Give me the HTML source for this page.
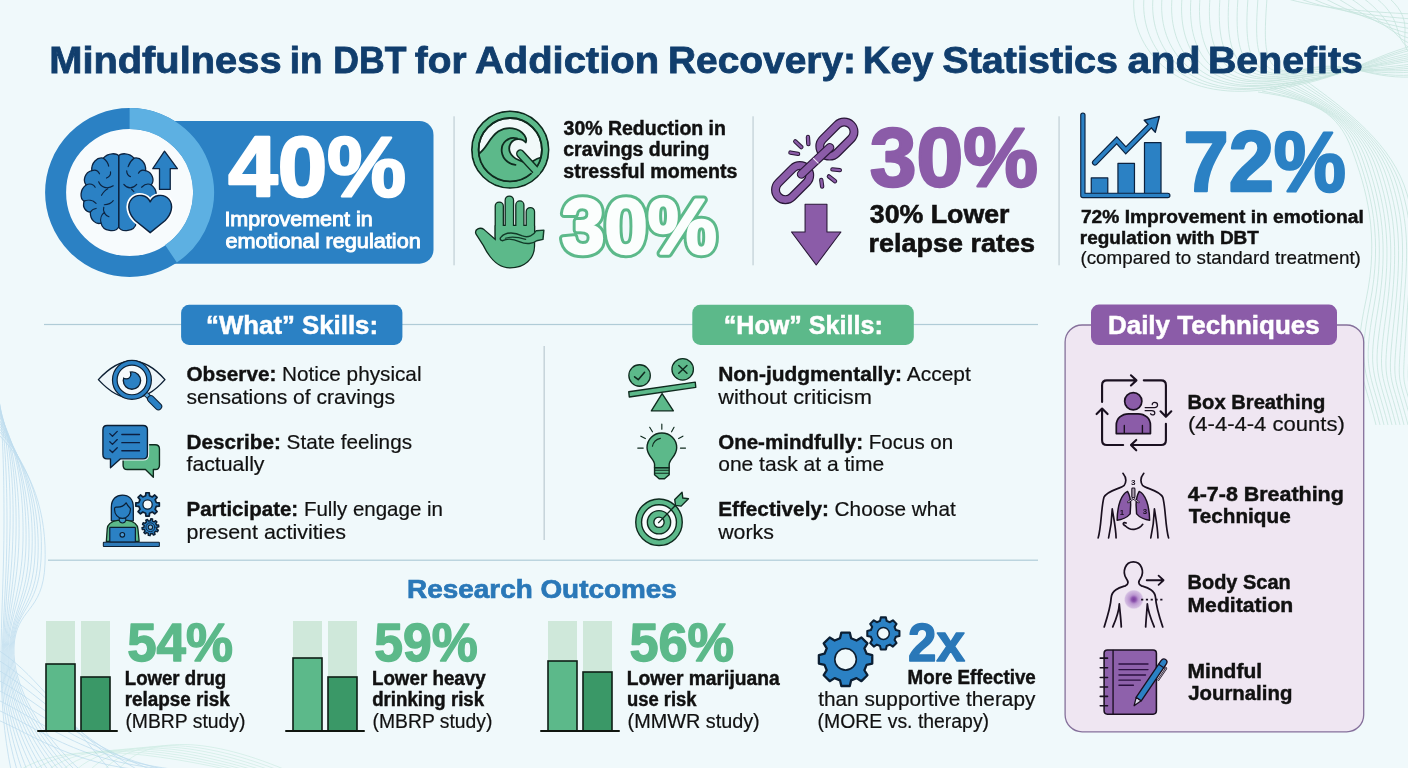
<!DOCTYPE html>
<html lang="en"><head><meta charset="utf-8">
<title>Mindfulness in DBT for Addiction Recovery: Key Statistics and Benefits</title>
<style>
html,body{margin:0;padding:0;background:#f0f9fb;}
body{width:1408px;height:768px;overflow:hidden;font-family:"Liberation Sans",sans-serif;}
svg{display:block;will-change:transform}
text{font-family:"Liberation Sans",sans-serif;}
</style></head><body>
<svg width="1408" height="768" viewBox="0 0 1408 768">
<rect width="1408" height="768" fill="#f0f9fb"/>
<g fill="none" stroke="#a3d3c4" stroke-width="0.8" opacity="0.55"><path d="M1134 -2C1130 40 1165 96 1250 91S1365 58 1412 46"/><path d="M1144 -2C1140 41 1172 95 1254 89S1365 60 1412 48"/><path d="M1153 -2C1149 42 1179 94 1258 88S1365 61 1412 50"/><path d="M1162 -2C1158 43 1186 92 1262 86S1365 62 1412 53"/><path d="M1172 -2C1168 44 1193 91 1266 85S1365 64 1412 55"/><path d="M1182 -2C1178 45 1200 90 1270 83S1365 66 1412 57"/><path d="M1191 -2C1187 46 1207 89 1274 81S1365 67 1412 59"/><path d="M1200 -2C1196 47 1214 88 1278 80S1365 68 1412 61"/><path d="M1210 -2C1206 48 1221 86 1282 78S1365 70 1412 64"/><path d="M1220 -2C1216 49 1228 85 1286 77S1365 72 1412 66"/><path d="M1229 -2C1225 50 1235 84 1290 75S1365 73 1412 68"/><path d="M1238 -2C1234 51 1242 83 1294 73S1365 74 1412 70"/><path d="M1248 -2C1244 52 1249 82 1298 72S1365 76 1412 72"/><path d="M1258 -2C1254 53 1256 80 1302 70S1365 78 1412 75"/><path d="M1267 -2C1263 54 1263 79 1306 69S1365 79 1412 77"/><path d="M1285 -2C1315 8 1370 12 1412 14"/><path d="M1298 -2C1328 10 1373 16 1412 19"/><path d="M1311 -2C1341 12 1376 20 1412 24"/><path d="M1324 -2C1354 14 1379 24 1412 29"/><path d="M1337 -2C1367 16 1382 28 1412 34"/><path d="M1350 -2C1380 18 1385 32 1412 39"/><path d="M1363 -2C1393 20 1388 36 1412 44"/><path d="M1376 -2C1406 22 1391 40 1412 49"/><path d="M1389 -2C1419 24 1394 44 1412 54"/><path d="M1258 92C1315 100 1338 112 1352 150S1380 235 1366 300S1362 370 1376 425"/><path d="M1262 91C1318 101 1343 115 1357 154S1383 238 1370 303S1366 370 1380 425"/><path d="M1266 89C1321 102 1348 118 1362 158S1386 241 1374 306S1370 370 1384 425"/><path d="M1270 88C1324 103 1353 121 1367 162S1389 244 1378 309S1374 370 1388 425"/><path d="M1274 87C1327 104 1358 124 1372 166S1392 247 1382 312S1378 370 1392 425"/><path d="M1278 86C1330 105 1363 127 1377 170S1395 250 1386 315S1382 370 1396 425"/><path d="M1282 84C1333 106 1368 130 1382 174S1398 253 1390 318S1386 370 1400 425"/><path d="M1286 83C1336 107 1373 133 1387 178S1401 256 1394 321S1390 370 1404 425"/><path d="M1290 82C1339 108 1378 136 1392 182S1404 259 1398 324S1394 370 1408 425"/><path d="M1294 80C1342 109 1383 139 1397 186S1407 262 1402 327S1398 370 1412 425"/><path d="M1298 79C1345 110 1388 142 1402 190S1410 265 1406 330S1402 370 1416 425"/><path d="M1302 78C1348 111 1393 145 1407 194S1413 268 1410 333S1406 370 1420 425"/></g><g fill="none" stroke="#8fc1e2" stroke-width="0.8" opacity="0.5"><path d="M-2 392C3 427 4 472 4 522S1 620 1 660S4 735 11 770"/><path d="M-2 395C5 430 7 475 7 525S3 619 2 659S7 735 17 770"/><path d="M-2 398C7 433 11 478 10 528S4 618 3 658S10 735 22 770"/><path d="M-2 402C10 437 14 482 13 532S5 617 4 657S13 735 27 770"/><path d="M-2 405C12 440 17 485 16 535S6 616 5 656S15 735 33 770"/><path d="M-2 408C14 443 20 488 19 538S7 615 6 655S18 735 38 770"/><path d="M-2 411C17 446 24 491 23 541S8 614 7 654S21 735 43 770"/><path d="M-2 414C19 449 27 494 26 544S9 613 8 653S24 735 48 770"/><path d="M-2 418C21 453 30 498 29 548S11 612 9 652S27 735 54 770"/><path d="M-2 421C24 456 34 501 32 551S12 611 10 651S30 735 59 770"/><path d="M-2 424C26 459 37 504 35 554S13 610 11 650S33 735 64 770"/><path d="M-2 427C28 462 40 507 38 557S14 609 12 649S36 735 69 770"/><path d="M-2 430C31 465 44 510 41 560S15 608 13 648S39 735 75 770"/><path d="M-2 434C33 469 47 514 45 564S16 607 14 647S42 735 80 770"/><path d="M-2 650C30 670 60 710 110 770"/><path d="M-2 660C32 680 65 720 124 770"/><path d="M-2 670C34 690 70 730 138 770"/><path d="M-2 680C36 700 75 740 152 770"/><path d="M-2 690C38 710 80 750 166 770"/><path d="M-2 700C40 720 85 760 180 770"/><path d="M-2 710C42 730 90 770 194 770"/><path d="M-2 720C44 740 95 780 208 770"/></g><g fill="none" stroke="#a5dcc6" stroke-width="0.8" opacity="0.4"><path d="M20 770C60 745 130 748 230 770"/><path d="M34 770C72 744 140 746 238 770"/><path d="M48 770C84 743 150 744 246 770"/><path d="M62 770C96 742 160 742 254 770"/><path d="M76 770C108 741 170 740 262 770"/><path d="M90 770C120 740 180 738 270 770"/><path d="M104 770C132 739 190 736 278 770"/><path d="M118 770C144 738 200 734 286 770"/></g>
<text y="72.6" font-size="37.2" font-weight="bold" fill="#113e6d" stroke="#113e6d" stroke-width="0.8"><tspan x="49.23" textLength="232.32" lengthAdjust="spacingAndGlyphs">Mindfulness</tspan> <tspan x="289.73" textLength="32.64" lengthAdjust="spacingAndGlyphs">in</tspan> <tspan x="333.32" textLength="73.08" lengthAdjust="spacingAndGlyphs">DBT</tspan> <tspan x="414.84" textLength="51.64" lengthAdjust="spacingAndGlyphs">for</tspan> <tspan x="474.90" textLength="184.15" lengthAdjust="spacingAndGlyphs">Addiction</tspan> <tspan x="667.99" textLength="188.04" lengthAdjust="spacingAndGlyphs">Recovery:</tspan> <tspan x="862.83" textLength="70.49" lengthAdjust="spacingAndGlyphs">Key</tspan> <tspan x="942.25" textLength="175.88" lengthAdjust="spacingAndGlyphs">Statistics</tspan> <tspan x="1127.61" textLength="72.89" lengthAdjust="spacingAndGlyphs">and</tspan> <tspan x="1207.97" textLength="154.90" lengthAdjust="spacingAndGlyphs">Benefits</tspan></text>
<rect x="120" y="121" width="313.5" height="142.7" rx="14" fill="#2b81c4"/>
<circle cx="129.6" cy="192.5" r="74" fill="#f7fbfd" stroke="#2b81c4" stroke-width="21"/>
<path d="M129.6 118.5A74 74 0 0 1 171.0 253.8" fill="none" stroke="#5db0e2" stroke-width="21"/>
<g transform="translate(70,140) scale(0.1432)" stroke-linecap="round" stroke-linejoin="round">
<g fill="#2b81c4" stroke="#0c2340" stroke-width="9">
<path d="M340 112C350 92 415 85 447 127C492 117 532 160 528 214C577 227 592 282 568 314C612 347 612 410 582 427C595 472 570 502 538 504C540 562 495 592 463 580C450 642 360 647 340 607Z"/>
<path d="M340 112C330 92 265 85 233 127C188 117 148 160 152 214C103 227 88 282 112 314C68 347 68 410 98 427C85 472 110 502 142 504C140 562 185 592 217 580C230 642 320 647 340 607Z"/>
</g>
<g fill="none" stroke="#0c2340" stroke-width="8">
<path d="M233 127C250 140 266 160 270 182"/><path d="M152 214C175 205 196 215 206 236"/><path d="M255 266C275 256 286 240 283 222"/>
<path d="M200 292C215 332 262 346 302 320"/><path d="M112 314C140 300 166 310 176 330"/><path d="M220 386C234 362 250 346 264 340"/>
<path d="M98 427C125 415 160 420 182 442"/><path d="M240 452C266 452 290 440 302 424"/><path d="M142 504C150 490 165 480 182 478"/>
<path d="M217 580C208 550 220 520 242 505"/><path d="M236 470C226 500 246 526 272 536"/>
<path d="M447 127C430 140 414 160 406 186"/><path d="M396 215C396 236 406 250 422 256"/><path d="M528 214C505 205 486 215 478 232"/>
<path d="M376 310C400 342 440 342 466 310"/><path d="M568 314C545 300 520 310 500 330"/><path d="M430 344L446 360"/>
</g>
<path d="M560 432C540 385 470 368 430 413C393 458 413 520 455 562L560 647L665 562C707 520 727 458 690 413C650 368 580 385 560 432Z" fill="#fff" stroke="#fff" stroke-width="34"/>
<path d="M560 432C540 385 470 368 430 413C393 458 413 520 455 562L560 647L665 562C707 520 727 458 690 413C650 368 580 385 560 432Z" fill="#2b81c4" stroke="#0c2340" stroke-width="10"/>
<path d="M660 78L750 200L700 200L700 345L625 345L625 200L578 200Z" fill="#2b81c4" stroke="#0c2340" stroke-width="9"/>
</g>

<text x="228.2" y="196" font-size="85.6" fill="#fff" font-weight="bold" textLength="178" lengthAdjust="spacingAndGlyphs" stroke="#fff" stroke-width="2.4" stroke-linejoin="round">40%</text>
<text x="224.4" y="225.9" font-size="20" fill="#fff" font-weight="normal" textLength="148.4" lengthAdjust="spacingAndGlyphs" stroke="#fff" stroke-width="0.9">Improvement in</text>
<text x="225.4" y="247.7" font-size="20" fill="#fff" font-weight="normal" textLength="195.4" lengthAdjust="spacingAndGlyphs" stroke="#fff" stroke-width="0.9">emotional regulation</text>
<rect x="453.5" y="116.3" width="1.1" height="149" fill="#bccbd1"/>
<rect x="752.5" y="116.3" width="1.1" height="149" fill="#bccbd1"/>
<rect x="1058.5" y="116.3" width="1.1" height="149" fill="#bccbd1"/>
<g transform="translate(466,106) scale(0.11196)" stroke-linecap="round" stroke-linejoin="round">
<defs><clipPath id="cw"><circle cx="395" cy="390" r="283"/></clipPath></defs>
<circle cx="395" cy="390" r="342" fill="#5cb98a" stroke="#0f2a1e" stroke-width="16"/>
<circle cx="395" cy="390" r="283" fill="#f1f9f9" stroke="#0f2a1e" stroke-width="16"/>
<g clip-path="url(#cw)">
<path d="M90 440C180 405 195 290 290 226C365 178 475 190 522 262C540 290 540 312 534 326C500 284 430 284 400 332C368 384 392 452 470 482L560 520L600 492C630 470 660 460 700 452L700 720L90 720Z" fill="#5cb98a" stroke="#0f2a1e" stroke-width="16"/>
<path d="M456 290C380 268 308 330 320 412C330 482 392 522 442 526" fill="none" stroke="#0f2a1e" stroke-width="16"/>
</g>
<path d="M486 426L632 584" fill="none" stroke="#0f2a1e" stroke-width="78"/>
<path d="M486 426L636 590" fill="none" stroke="#5cb98a" stroke-width="52"/>
<circle cx="395" cy="390" r="312.5" fill="none" stroke="#5cb98a" stroke-width="45"/>
<circle cx="395" cy="390" r="283" fill="none" stroke="#0f2a1e" stroke-width="16" stroke-dasharray="152 86 1545 0" stroke-linecap="butt"/>
</g>

<g transform="translate(462,104) scale(0.22124)" stroke-linecap="round" stroke-linejoin="round">
<g fill="#5cb98a" stroke="#0f2a1e" stroke-width="11.5">
<rect x="153" y="446" width="31" height="170" rx="15.5"/><rect x="198" y="419" width="32" height="190" rx="16"/><rect x="246" y="441" width="31" height="170" rx="15.5"/><rect x="293" y="471" width="32" height="150" rx="16"/>
<path d="M153 552L325 552L325 640C326 700 280 738 218 738C160 738 125 690 100 640L66 587C58 568 82 558 98 570L153 618Z"/>
</g>
<g fill="#5cb98a">
<rect x="153" y="446" width="31" height="170" rx="15.5"/><rect x="198" y="419" width="32" height="190" rx="16"/><rect x="246" y="441" width="31" height="170" rx="15.5"/><rect x="293" y="471" width="32" height="150" rx="16"/>
<path d="M153 552L325 552L325 640C326 700 280 738 218 738C160 738 125 690 100 640L66 587C58 568 82 558 98 570L153 618Z"/>
</g>
<path d="M178 600C200 576 240 580 270 595C300 608 325 592 335 573L370 570L366 612L338 618C320 632 290 636 262 623C235 611 205 606 184 618C170 616 170 606 178 600Z" fill="#5cb98a" stroke="#123a28" stroke-width="6.5"/>
<path d="M196 607C225 596 262 604 288 612" fill="none" stroke="#123a28" stroke-width="5"/>
</g>

<text x="563.6" y="134.7" font-size="19.5" fill="#111111" font-weight="bold" textLength="162.3" lengthAdjust="spacingAndGlyphs" stroke="#111" stroke-width="0.45">30% Reduction in</text>
<text x="563.3" y="156.3" font-size="19.5" fill="#111111" font-weight="bold" textLength="146" lengthAdjust="spacingAndGlyphs" stroke="#111" stroke-width="0.45">cravings during</text>
<text x="563.3" y="177.9" font-size="19.5" fill="#111111" font-weight="bold" textLength="174" lengthAdjust="spacingAndGlyphs" stroke="#111" stroke-width="0.45">stressful moments</text>
<defs><text id="g30" x="561.5" y="252.9" font-size="78" font-weight="bold" textLength="155.2" lengthAdjust="spacingAndGlyphs" stroke-linejoin="round">30%</text></defs>
<use href="#g30" fill="#5cb98a" stroke="#5cb98a" stroke-width="8.6"/>
<use href="#g30" fill="#fbfefd" stroke="#fbfefd" stroke-width="2.6"/>
<g transform="translate(762,106) scale(0.21869)" stroke-linecap="round" stroke-linejoin="round" fill="none">
<g transform="translate(342.5,151) rotate(-45)"><rect x="-92" y="-45" width="184" height="90" rx="45" stroke="#2a1838" stroke-width="41"/><rect x="-92" y="-45" width="184" height="90" rx="45" stroke="#8b5ca8" stroke-width="30"/></g>
<g transform="translate(140,350) rotate(-45)"><rect x="-92" y="-45" width="184" height="90" rx="45" stroke="#2a1838" stroke-width="41"/><rect x="-92" y="-45" width="184" height="90" rx="45" stroke="#8b5ca8" stroke-width="30"/></g>
<path d="M180 312L310 190" stroke="#2a1838" stroke-width="42"/><path d="M180 312L310 190" stroke="#8b5ca8" stroke-width="31"/>
<path d="M234 238L258 262" stroke="#f3eaf8" stroke-width="5" stroke-linecap="butt"/>
<g stroke="#2a1838" stroke-width="20"><path d="M152 162L180 188"/><path d="M210 142L212 174"/><path d="M130 213L165 219"/><path d="M322 290L356 293"/><path d="M306 322L334 344"/><path d="M271 338L275 368"/></g>
<g stroke="#8b5ca8" stroke-width="11"><path d="M152 162L180 188"/><path d="M210 142L212 174"/><path d="M130 213L165 219"/><path d="M322 290L356 293"/><path d="M306 322L334 344"/><path d="M271 338L275 368"/></g>
<path d="M197 449L297 449L297 576L361 576L248 727L135 576L197 576Z" fill="#8b5ca8" stroke="#2a1838" stroke-width="5"/>
</g>

<text x="869.7" y="185.8" font-size="83.1" fill="#8b5ca8" font-weight="bold" textLength="168.2" lengthAdjust="spacingAndGlyphs" stroke="#8b5ca8" stroke-width="2.4" stroke-linejoin="round">30%</text>
<text x="869.8" y="223.2" font-size="26.7" fill="#111111" font-weight="bold" textLength="139.7" lengthAdjust="spacingAndGlyphs" stroke="#111" stroke-width="0.6">30% Lower</text>
<text x="868.6" y="251.5" font-size="26.7" fill="#111111" font-weight="bold" textLength="166.4" lengthAdjust="spacingAndGlyphs" stroke="#111" stroke-width="0.6">relapse rates</text>
<g transform="translate(1070,104) scale(0.13544)" stroke-linecap="round" stroke-linejoin="round">
<g fill="#2b81c4" stroke="#0c2340" stroke-width="9"><rect x="157" y="546" width="122" height="118"/><rect x="354" y="439" width="122" height="225"/><rect x="550" y="285" width="122" height="380"/></g>
<path d="M95 82L95 675L722 675" fill="none" stroke="#0c2340" stroke-width="40"/>
<path d="M95 82L95 675L722 675" fill="none" stroke="#2b81c4" stroke-width="23"/>
<path d="M184 433L345 268L412 342L590 162" fill="none" stroke="#0c2340" stroke-width="44" stroke-linejoin="miter"/>
<path d="M660 92L548 120L630 208Z" fill="#2b81c4" stroke="#0c2340" stroke-width="10"/>
<path d="M184 433L345 268L412 342L600 152" fill="none" stroke="#2b81c4" stroke-width="27" stroke-linejoin="miter"/>
</g>

<text x="1183.6" y="190.6" font-size="84.4" fill="#2b81c4" font-weight="bold" textLength="162.4" lengthAdjust="spacingAndGlyphs" stroke="#2b81c4" stroke-width="2.4" stroke-linejoin="round">72%</text>
<text x="1080.9" y="223.2" font-size="18.8" fill="#111111" font-weight="bold" textLength="282.9" lengthAdjust="spacingAndGlyphs" stroke="#111" stroke-width="0.45">72% Improvement in emotional</text>
<text x="1079.8" y="243.5" font-size="18.8" fill="#111111" font-weight="bold" textLength="179.1" lengthAdjust="spacingAndGlyphs" stroke="#111" stroke-width="0.45">regulation with DBT</text>
<text x="1080.4" y="263.9" font-size="18.6" fill="#111111" font-weight="normal" textLength="280.5" lengthAdjust="spacingAndGlyphs" stroke="#111" stroke-width="0.2">(compared to standard treatment)</text>
<rect x="44" y="323.9" width="994" height="1.2" fill="#b0ccd7"/>
<rect x="48" y="559.6" width="990" height="1.2" fill="#b0ccd7"/>
<rect x="543.6" y="346" width="1.1" height="194" fill="#b6c6ce"/>
<rect x="181.1" y="304.8" width="221.3" height="40.1" rx="8" fill="#2b81c4"/>
<text x="206.14" y="333.6" font-size="25.7" fill="#fff" font-weight="bold" textLength="171.9" lengthAdjust="spacingAndGlyphs" stroke="#fff" stroke-width="0.5">“What” Skills:</text>
<rect x="692.3" y="304.8" width="221.5" height="40.1" rx="8" fill="#5cb98a"/>
<text x="723.79" y="333.6" font-size="25.7" fill="#fff" font-weight="bold" textLength="158.98" lengthAdjust="spacingAndGlyphs" stroke="#fff" stroke-width="0.5">“How” Skills:</text>
<g transform="translate(90,350) scale(0.091185)" stroke-linecap="round" stroke-linejoin="round">
<defs><clipPath id="cpu"><circle cx="460" cy="335" r="101"/></clipPath></defs>
<path d="M92 325C220 185 350 120 460 120C570 120 700 185 822 325C700 465 570 530 460 530C350 530 220 465 92 325Z" fill="#edf5f9" stroke="#0c1f33" stroke-width="15"/>
<path d="M612 482L655 525" stroke="#0c1f33" stroke-width="58" fill="none" stroke-linecap="butt"/>
<path d="M612 482L655 525" stroke="#5aa6dc" stroke-width="38" fill="none" stroke-linecap="butt"/>
<path d="M668 538L750 620" stroke="#0c1f33" stroke-width="84" fill="none"/>
<path d="M668 538L750 620" stroke="#2b81c4" stroke-width="62" fill="none"/>
<circle cx="460" cy="328" r="188" fill="#f5fafc" stroke="#0c1f33" stroke-width="64"/>
<circle cx="460" cy="328" r="188" fill="none" stroke="#2b81c4" stroke-width="38"/>
<circle cx="460" cy="335" r="95" fill="#2b81c4" stroke="#0c1f33" stroke-width="15"/>
<circle cx="398" cy="266" r="50" fill="#f5fafc"/><g clip-path="url(#cpu)"><circle cx="398" cy="266" r="50" fill="none" stroke="#0c1f33" stroke-width="15"/></g>
</g>

<g transform="translate(92,418) scale(0.085929)" stroke-linecap="round" stroke-linejoin="round">
<path d="M410 312L735 312Q785 312 785 362L785 550Q785 600 735 600L714 600L714 690L622 600L410 600Q362 600 362 550L362 362Q362 312 410 312Z" fill="#5cb98a" stroke="#0f2a1e" stroke-width="16"/>
<path d="M175 87L595 87Q645 87 645 137L645 425Q645 475 595 475L332 475L215 580L215 475L175 475Q127 475 127 425L127 137Q127 87 175 87Z" fill="#f0f9fb" stroke="#f0f9fb" stroke-width="40"/>
<path d="M175 87L595 87Q645 87 645 137L645 425Q645 475 595 475L332 475L215 580L215 475L175 475Q127 475 127 425L127 137Q127 87 175 87Z" fill="#2b81c4" stroke="#0c1f33" stroke-width="16"/>
<g fill="none" stroke="#0c1f40" stroke-width="15"><path d="M207 182L238 212L294 156"/><path d="M207 277L238 307L294 251"/><path d="M207 372L238 402L294 346"/><path d="M347 192L553 192"/><path d="M347 287L553 287"/><path d="M347 381L553 381"/></g>
</g>

<g transform="translate(95,486) scale(0.08591)" stroke-linecap="round" stroke-linejoin="round">
<path d="M190 405L190 250C190 150 250 106 320 106C390 106 446 150 446 250L446 405Z" fill="#2b7fc2" stroke="#0c1f33" stroke-width="15"/>
<path d="M132 645L142 500C146 440 200 410 262 400L380 400C440 410 494 440 500 500L514 645Z" fill="#5cb98a" stroke="#0f2a1e" stroke-width="15"/>
<path d="M282 375L358 375L358 400C350 440 290 440 282 400Z" fill="#3f97c9" stroke="#0c1f33" stroke-width="12"/>
<path d="M228 262C228 250 232 246 245 246C290 250 335 235 362 196C375 225 395 245 412 262C418 330 370 378 320 378C270 378 222 330 228 262Z" fill="#2b81c4" stroke="#0c1f33" stroke-width="14"/>
<rect x="172" y="482" width="298" height="172" rx="8" fill="#2b81c4" stroke="#0c1f33" stroke-width="14"/>
<circle cx="318" cy="568" r="27" fill="#4a9bd8" stroke="#0c1f33" stroke-width="13"/>
<rect x="97" y="654" width="652" height="50" rx="6" fill="#2e7ab8" stroke="#0c1f33" stroke-width="12"/>
<path d="M589.3 113.5L592.6 78.4L631.4 78.4L634.7 113.5L667.7 127.2L694.9 104.6L722.4 132.1L699.8 159.3L713.5 192.3L748.6 195.6L748.6 234.4L713.5 237.7L699.8 270.7L722.4 297.9L694.9 325.4L667.7 302.8L634.7 316.5L631.4 351.6L592.6 351.6L589.3 316.5L556.3 302.8L529.1 325.4L501.6 297.9L524.2 270.7L510.5 237.7L475.4 234.4L475.4 195.6L510.5 192.3L524.2 159.3L501.6 132.1L529.1 104.6L556.3 127.2Z" fill="#2b81c4" stroke="#0c1f33" stroke-width="20"/>
<circle cx="612" cy="215" r="54" fill="#f7fbfd" stroke="#0c1f33" stroke-width="15"/>
<path d="M643.3 404.0L649.2 382.1L669.9 385.2L669.1 407.9L688.3 417.5L706.0 403.3L720.9 417.9L706.9 435.9L716.7 454.9L739.4 453.8L742.8 474.4L721.0 480.7L717.8 501.8L736.8 514.3L727.5 533.0L706.1 525.2L691.1 540.5L699.1 561.7L680.6 571.3L667.9 552.5L646.7 556.0L640.8 577.9L620.1 574.8L620.9 552.1L601.7 542.5L584.0 556.7L569.1 542.1L583.1 524.1L573.3 505.1L550.6 506.2L547.2 485.6L569.0 479.3L572.2 458.2L553.2 445.7L562.5 427.0L583.9 434.8L598.9 419.5L590.9 398.3L609.4 388.7L622.1 407.5Z" fill="#2b81c4" stroke="#0c1f33" stroke-width="17"/>
<circle cx="645" cy="480" r="52" fill="none" stroke="#0c1f33" stroke-width="10"/>
<circle cx="645" cy="480" r="25" fill="#9fc3d8" stroke="#0c1f33" stroke-width="12"/>
</g>
<text x="186.5" y="381" font-size="21" fill="#111111" textLength="235" lengthAdjust="spacingAndGlyphs"><tspan font-weight="bold" stroke="#111" stroke-width="0.4">Observe:</tspan><tspan stroke="#111" stroke-width="0.2"> Notice physical</tspan></text>
<text x="186.5" y="403.5" font-size="21" fill="#111111" font-weight="normal" textLength="208.5" lengthAdjust="spacingAndGlyphs" stroke="#111" stroke-width="0.2">sensations of cravings</text>
<text x="186.5" y="448.7" font-size="21" fill="#111111" textLength="225.5" lengthAdjust="spacingAndGlyphs"><tspan font-weight="bold" stroke="#111" stroke-width="0.4">Describe:</tspan><tspan stroke="#111" stroke-width="0.2"> State feelings</tspan></text>
<text x="186.5" y="471.4" font-size="21" fill="#111111" font-weight="normal" textLength="78" lengthAdjust="spacingAndGlyphs" stroke="#111" stroke-width="0.2">factually</text>
<text x="186.5" y="516" font-size="21" fill="#111111" textLength="256.5" lengthAdjust="spacingAndGlyphs"><tspan font-weight="bold" stroke="#111" stroke-width="0.4">Participate:</tspan><tspan stroke="#111" stroke-width="0.2"> Fully engage in</tspan></text>
<text x="186.5" y="538.6" font-size="21" fill="#111111" font-weight="normal" textLength="159.5" lengthAdjust="spacingAndGlyphs" stroke="#111" stroke-width="0.2">present activities</text>
<g transform="translate(620,350) scale(0.091106)" stroke-linecap="round" stroke-linejoin="round" stroke="#0f2a1e" fill="#5cb98a">
<path d="M462 478L344 668L586 668Z" stroke-width="15"/>
<path d="M96 458L826 352L832 410L102 516Z" stroke-width="15"/>
<circle cx="215" cy="280" r="118" stroke-width="14"/>
<circle cx="688" cy="212" r="118" stroke-width="14"/>
<path d="M160 294L200 326L270 244" fill="none" stroke-width="17"/>
<path d="M645 170L735 256M735 170L645 256" fill="none" stroke-width="16"/>
</g>

<g transform="translate(628,418) scale(0.088542)" stroke-linecap="round" stroke-linejoin="round" stroke="#0f2a1e" fill="#5cb98a">
<path d="M300 560L465 560L465 640L412 686L352 686L300 640Z" stroke-width="16"/>
<path d="M300 562L300 525C300 470 215 425 215 335C215 240 290 170 382 170C475 170 550 240 550 335C550 425 465 470 465 525L465 562Z" stroke-width="16"/>
<path d="M306 590L460 590M306 624L460 624" fill="none" stroke-width="12"/>
<path d="M276 320C286 272 320 238 366 230" fill="none" stroke-width="12"/>
<path d="M382 70L382 126M245 105L276 156M520 105L492 156M145 205L196 232M620 205L572 232M110 340L172 340M592 340L650 340" fill="none" stroke-width="13"/>
</g>

<g transform="translate(626,484) scale(0.09375)" stroke-linecap="round" stroke-linejoin="round" stroke="#0f2a1e">
<circle cx="352" cy="408" r="248" fill="#5cb98a" stroke-width="15"/>
<circle cx="352" cy="408" r="186" fill="#f7fbfc" stroke-width="15"/>
<circle cx="352" cy="408" r="124" fill="#5cb98a" stroke-width="15"/>
<circle cx="352" cy="408" r="55" fill="#f7fbfc" stroke-width="15"/>
<path d="M348 412L545 210" fill="none" stroke-width="15"/>
<path d="M520 166L598 88L606 150L666 158L588 236L528 228Z" fill="#5cb98a" stroke-width="15"/>
</g>

<text x="718.2" y="381" font-size="21" fill="#111111" textLength="252.6" lengthAdjust="spacingAndGlyphs"><tspan font-weight="bold" stroke="#111" stroke-width="0.4">Non-judgmentally:</tspan><tspan stroke="#111" stroke-width="0.2"> Accept</tspan></text>
<text x="718.2" y="403.5" font-size="21" fill="#111111" font-weight="normal" textLength="153.6" lengthAdjust="spacingAndGlyphs" stroke="#111" stroke-width="0.2">without criticism</text>
<text x="718.2" y="448.7" font-size="21" fill="#111111" textLength="235" lengthAdjust="spacingAndGlyphs"><tspan font-weight="bold" stroke="#111" stroke-width="0.4">One-mindfully:</tspan><tspan stroke="#111" stroke-width="0.2"> Focus on</tspan></text>
<text x="718.2" y="471.4" font-size="21" fill="#111111" font-weight="normal" textLength="166" lengthAdjust="spacingAndGlyphs" stroke="#111" stroke-width="0.2">one task at a time</text>
<text x="718.2" y="516" font-size="21" fill="#111111" textLength="237.5" lengthAdjust="spacingAndGlyphs"><tspan font-weight="bold" stroke="#111" stroke-width="0.4">Effectively:</tspan><tspan stroke="#111" stroke-width="0.2"> Choose what</tspan></text>
<text x="718.2" y="538.6" font-size="21" fill="#111111" font-weight="normal" textLength="55.7" lengthAdjust="spacingAndGlyphs" stroke="#111" stroke-width="0.2">works</text>
<text x="407.13" y="597.5" font-size="26" fill="#2a78b8" font-weight="bold" textLength="269.66" lengthAdjust="spacingAndGlyphs" stroke="#2a78b8" stroke-width="0.7">Research Outcomes</text>
<rect x="46" y="621" width="29" height="110" fill="#cfe8da"/>
<rect x="81" y="621" width="29" height="110" fill="#cfe8da"/>
<rect x="46" y="664" width="29" height="67" fill="#5cb98a" stroke="#0e1f16" stroke-width="1.6"/>
<rect x="81" y="677" width="29" height="54" fill="#3a9867" stroke="#0e1f16" stroke-width="1.6"/>
<rect x="37" y="730.1" width="81" height="2" rx="1" fill="#10160f"/>
<rect x="293" y="621" width="29" height="110" fill="#cfe8da"/>
<rect x="328" y="621" width="29" height="110" fill="#cfe8da"/>
<rect x="293" y="658" width="29" height="73" fill="#5cb98a" stroke="#0e1f16" stroke-width="1.6"/>
<rect x="328" y="677" width="29" height="54" fill="#3a9867" stroke="#0e1f16" stroke-width="1.6"/>
<rect x="285" y="730.1" width="80" height="2" rx="1" fill="#10160f"/>
<rect x="548" y="621" width="29" height="110" fill="#cfe8da"/>
<rect x="583" y="621" width="29" height="110" fill="#cfe8da"/>
<rect x="548" y="661" width="29" height="70" fill="#5cb98a" stroke="#0e1f16" stroke-width="1.6"/>
<rect x="583" y="672" width="29" height="59" fill="#3a9867" stroke="#0e1f16" stroke-width="1.6"/>
<rect x="540" y="730.1" width="80" height="2" rx="1" fill="#10160f"/>
<text x="127.2" y="661.4" font-size="54" fill="#5cb98a" font-weight="bold" textLength="105.8" lengthAdjust="spacingAndGlyphs" stroke="#5cb98a" stroke-width="1.4" stroke-linejoin="round">54%</text>
<text x="124.78" y="684.5" font-size="19.6" fill="#111111" font-weight="bold" textLength="101.43" lengthAdjust="spacingAndGlyphs" stroke="#111111" stroke-width="0.45">Lower drug</text>
<text x="124.78" y="706.1" font-size="19.6" fill="#111111" font-weight="bold" textLength="104.89" lengthAdjust="spacingAndGlyphs" stroke="#111111" stroke-width="0.45">relapse risk</text>
<text x="125.4" y="728.4" font-size="19.6" fill="#111111" font-weight="normal" textLength="120.0" lengthAdjust="spacingAndGlyphs" stroke="#111111" stroke-width="0.2">(MBRP study)</text>
<text x="374.3" y="661.4" font-size="54" fill="#5cb98a" font-weight="bold" textLength="103.6" lengthAdjust="spacingAndGlyphs" stroke="#5cb98a" stroke-width="1.4" stroke-linejoin="round">59%</text>
<text x="371.92" y="684.5" font-size="19.6" fill="#111111" font-weight="bold" textLength="113.75" lengthAdjust="spacingAndGlyphs" stroke="#111111" stroke-width="0.45">Lower heavy</text>
<text x="372.21" y="706.1" font-size="19.6" fill="#111111" font-weight="bold" textLength="111.85" lengthAdjust="spacingAndGlyphs" stroke="#111111" stroke-width="0.45">drinking risk</text>
<text x="372.6" y="728.4" font-size="19.6" fill="#111111" font-weight="normal" textLength="119.8" lengthAdjust="spacingAndGlyphs" stroke="#111111" stroke-width="0.2">(MBRP study)</text>
<text x="629.5" y="661.4" font-size="54" fill="#5cb98a" font-weight="bold" textLength="104.6" lengthAdjust="spacingAndGlyphs" stroke="#5cb98a" stroke-width="1.4" stroke-linejoin="round">56%</text>
<text x="626.79" y="684.5" font-size="19.6" fill="#111111" font-weight="bold" textLength="152.85" lengthAdjust="spacingAndGlyphs" stroke="#111111" stroke-width="0.45">Lower marijuana</text>
<text x="626.93" y="706.1" font-size="19.6" fill="#111111" font-weight="bold" textLength="69.53" lengthAdjust="spacingAndGlyphs" stroke="#111111" stroke-width="0.45">use risk</text>
<text x="627.57" y="728.4" font-size="19.6" fill="#111111" font-weight="normal" textLength="132.16" lengthAdjust="spacingAndGlyphs" stroke="#111111" stroke-width="0.2">(MMWR study)</text>
<g transform="translate(808,608) scale(0.114537)" stroke-linecap="round" stroke-linejoin="round" stroke="#0c1f33">
<path d="M279.3 264.3L291.1 214.9L364.9 214.9L376.7 264.3L423.4 283.7L466.7 257.1L518.9 309.3L492.3 352.6L511.7 399.3L561.1 411.1L561.1 484.9L511.7 496.7L492.3 543.4L518.9 586.7L466.7 638.9L423.4 612.3L376.7 631.7L364.9 681.1L291.1 681.1L279.3 631.7L232.6 612.3L189.3 638.9L137.1 586.7L163.7 543.4L144.3 496.7L94.9 484.9L94.9 411.1L144.3 399.3L163.7 352.6L137.1 309.3L189.3 257.1L232.6 283.7Z" fill="#2b81c4" stroke-width="20"/>
<circle cx="328" cy="448" r="94" fill="#f0f9fb" stroke-width="14"/>
<path d="M629.0 112.8L635.8 81.7L680.2 81.7L687.0 112.8L714.8 124.3L741.5 107.1L772.9 138.5L755.7 165.2L767.2 193.0L798.3 199.8L798.3 244.2L767.2 251.0L755.7 278.8L772.9 305.5L741.5 336.9L714.8 319.7L687.0 331.2L680.2 362.3L635.8 362.3L629.0 331.2L601.2 319.7L574.5 336.9L543.1 305.5L560.3 278.8L548.8 251.0L517.7 244.2L517.7 199.8L548.8 193.0L560.3 165.2L543.1 138.5L574.5 107.1L601.2 124.3Z" fill="#2b81c4" stroke-width="18"/>
<circle cx="658" cy="222" r="52" fill="#f0f9fb" stroke-width="13"/>
</g>
<text x="907.9" y="661.1" font-size="53.7" fill="#2a78b8" font-weight="bold" textLength="57" lengthAdjust="spacingAndGlyphs" stroke="#2a78b8" stroke-width="1.4" stroke-linejoin="round">2x</text>
<text x="907.57" y="684.2" font-size="19.6" fill="#111111" font-weight="bold" textLength="128.25" lengthAdjust="spacingAndGlyphs" stroke="#111111" stroke-width="0.45">More Effective</text>
<text x="818.19" y="705.8" font-size="19.6" fill="#111111" font-weight="normal" textLength="217.16" lengthAdjust="spacingAndGlyphs" stroke="#111111" stroke-width="0.2">than supportive therapy</text>
<text x="817.6" y="728.4" font-size="19.6" fill="#111111" font-weight="normal" textLength="171.51" lengthAdjust="spacingAndGlyphs" stroke="#111111" stroke-width="0.2">(MORE vs. therapy)</text>
<rect x="1065.1" y="325" width="298.6" height="406.8" rx="17" fill="#efe6f2" stroke="#85709b" stroke-width="1.3"/>
<rect x="1091" y="304.6" width="246" height="40.4" rx="8" fill="#8b5ca8"/>
<text x="1107.91" y="333.55" font-size="25.7" fill="#fff" font-weight="bold" textLength="211.82" lengthAdjust="spacingAndGlyphs" stroke="#fff" stroke-width="0.5">Daily Techniques</text>
<g transform="translate(1092,368) scale(0.114583)" stroke-linecap="round" stroke-linejoin="round" stroke="#1a1020" fill="none">
<g stroke-width="18.5">
<path d="M88 296L88 150Q88 108 130 108L384 108M340 64L388 108L340 152"/>
<path d="M452 108L603 108Q645 108 645 150L645 420M598 378L645 426L692 378"/>
<path d="M645 486L645 630Q645 672 603 672L344 672M386 628L340 672L386 718"/>
<path d="M272 672L130 672Q88 672 88 630L88 360M40 402L88 354L136 402"/>
</g>
<circle cx="360" cy="290" r="75" fill="#8b5ca8" stroke-width="15"/>
<path d="M212 572L212 500C212 440 260 400 320 400L402 400C462 400 510 440 510 500L510 572Z" fill="#8b5ca8" stroke-width="15"/>
<path d="M282 568L282 502M440 568L440 502" stroke-width="12"/>
<path d="M464 345L545 345C582 345 580 300 546 300C532 300 524 310 526 320M464 373L522 373C556 373 556 412 526 410C518 410 512 404 512 398" stroke-width="11"/>
</g>

<g transform="translate(1094,466) scale(0.1041667)" stroke-linecap="round" stroke-linejoin="round" stroke="#1a1020" fill="none">
<g stroke-width="16">
<path d="M278 70C312 112 312 152 290 186C250 222 130 230 95 302C68 400 72 580 40 690"/>
<path d="M478 70C444 112 444 152 466 186C506 222 626 230 661 302C688 400 684 580 716 690"/>
<path d="M140 690C160 600 172 500 175 412C192 520 210 600 212 690"/>
<path d="M545 690C565 600 577 500 580 412C597 520 612 600 614 690"/>
<path d="M302 576C268 562 280 532 308 548M302 576C345 622 425 620 468 560"/>
</g>
<g fill="#8b5ca8" stroke-width="14">
<path d="M322 244C262 270 224 380 222 520C262 515 322 492 347 460L352 372C352 335 345 285 322 244Z"/>
<path d="M434 244C494 270 532 380 534 520C494 515 434 492 409 460L404 372C404 335 411 285 434 244Z"/>
</g>
<rect x="363" y="212" width="30" height="92" rx="8" fill="#a99bad" stroke-width="10"/>
<path d="M378 312L328 346M378 312L428 346" stroke="#1a1020" stroke-width="20"/>
<path d="M378 312L328 346M378 312L428 346" stroke="#e9dff0" stroke-width="8"/>
<g font-family="Liberation Sans, sans-serif" font-weight="bold" fill="#1a1020" stroke="none" text-anchor="middle"><text x="378" y="178" font-size="78">3</text><text x="268" y="466" font-size="76">1</text><text x="490" y="462" font-size="76">3</text></g>
</g>

<g transform="translate(1094,554) scale(0.1041667)" stroke-linecap="round" stroke-linejoin="round" stroke="#1a1020" fill="none">
<defs><radialGradient id="glow"><stop offset="0" stop-color="#7a3f9e"/><stop offset="0.22" stop-color="#8d55ae"/><stop offset="0.45" stop-color="#b48ccc" stop-opacity="0.9"/><stop offset="0.85" stop-color="#c9aedb" stop-opacity="0.75"/><stop offset="1" stop-color="#d8c6e6" stop-opacity="0"/></radialGradient></defs>
<circle cx="382" cy="436" r="96" fill="url(#glow)" stroke="none"/>
<g stroke-width="17">
<path d="M98 700C130 600 160 500 165 420C170 342 250 322 300 306C336 290 330 265 310 236C268 170 300 75 378 75C456 75 488 170 446 236C426 265 420 290 456 306C506 322 586 342 591 420C596 500 626 600 660 700"/>
<path d="M180 700C215 620 240 545 243 480C248 545 258 620 262 700"/>
<path d="M496 700C500 620 508 545 512 480C518 545 545 620 578 700"/>
<path d="M506 252L664 252M620 208L668 252L620 296"/>
</g>
<path d="M452 438L682 438" stroke-width="15" stroke-dasharray="21 25" stroke-linecap="butt"/>
</g>

<g transform="translate(1094,642) scale(0.1041667)" stroke-linecap="round" stroke-linejoin="round" stroke="#1a1020" fill="none">
<rect x="97" y="77" width="502" height="616" rx="32" fill="#8e61ab" stroke-width="15"/>
<path d="M183 80L183 690" stroke-width="13"/>
<path d="M60 155L130 155M60 247L130 247M60 340L130 340M60 432L130 432M60 522L130 522M60 612L130 612" stroke-width="15"/>
<path d="M240 212L518 212M240 265L518 265M240 316L494 316M240 366L444 366M240 416L378 416" stroke="#2b1040" stroke-width="14"/>
<g transform="translate(385,612) rotate(-55.7)">
<path d="M470 30L470 52L338 52" stroke="#1a1020" stroke-width="20"/><path d="M470 30L470 52L338 52" stroke="#eae3f1" stroke-width="6"/>
<path d="M0 0L78 -29L78 29Z" fill="#dcdcea" stroke-width="12"/>
<path d="M78 -30L500 -30Q537 -30 537 0Q537 30 500 30L78 30Z" fill="#2b81c4" stroke-width="13"/>
<path d="M462 -30L462 30" stroke-width="11"/>
<path d="M0 0L22 -7.5L22 7.5Z" fill="#1a1020" stroke="none"/>
</g>
</g>

<text x="1187.57" y="408.8" font-size="20.3" fill="#111111" font-weight="bold" textLength="137.75" lengthAdjust="spacingAndGlyphs" stroke="#111111" stroke-width="0.45">Box Breathing</text>
<text x="1187.93" y="430.9" font-size="20.3" fill="#111111" font-weight="normal" textLength="156.93" lengthAdjust="spacingAndGlyphs" stroke="#111111" stroke-width="0.2">(4-4-4-4 counts)</text>
<text x="1187.8" y="501.1" font-size="20.3" fill="#111111" font-weight="bold" textLength="155.99" lengthAdjust="spacingAndGlyphs" stroke="#111111" stroke-width="0.45">4-7-8 Breathing</text>
<text x="1188.7" y="523.2" font-size="20.3" fill="#111111" font-weight="bold" textLength="101.99" lengthAdjust="spacingAndGlyphs" stroke="#111111" stroke-width="0.45">Technique</text>
<text x="1187.59" y="589.1" font-size="20.3" fill="#111111" font-weight="bold" textLength="103.12" lengthAdjust="spacingAndGlyphs" stroke="#111111" stroke-width="0.45">Body Scan</text>
<text x="1187.51" y="611.6" font-size="20.3" fill="#111111" font-weight="bold" textLength="105.77" lengthAdjust="spacingAndGlyphs" stroke="#111111" stroke-width="0.45">Meditation</text>
<text x="1187.52" y="678.1" font-size="20.3" fill="#111111" font-weight="bold" textLength="74.55" lengthAdjust="spacingAndGlyphs" stroke="#111111" stroke-width="0.45">Mindful</text>
<text x="1188.22" y="700.2" font-size="20.3" fill="#111111" font-weight="bold" textLength="104.11" lengthAdjust="spacingAndGlyphs" stroke="#111111" stroke-width="0.45">Journaling</text>
</svg>
</body></html>
